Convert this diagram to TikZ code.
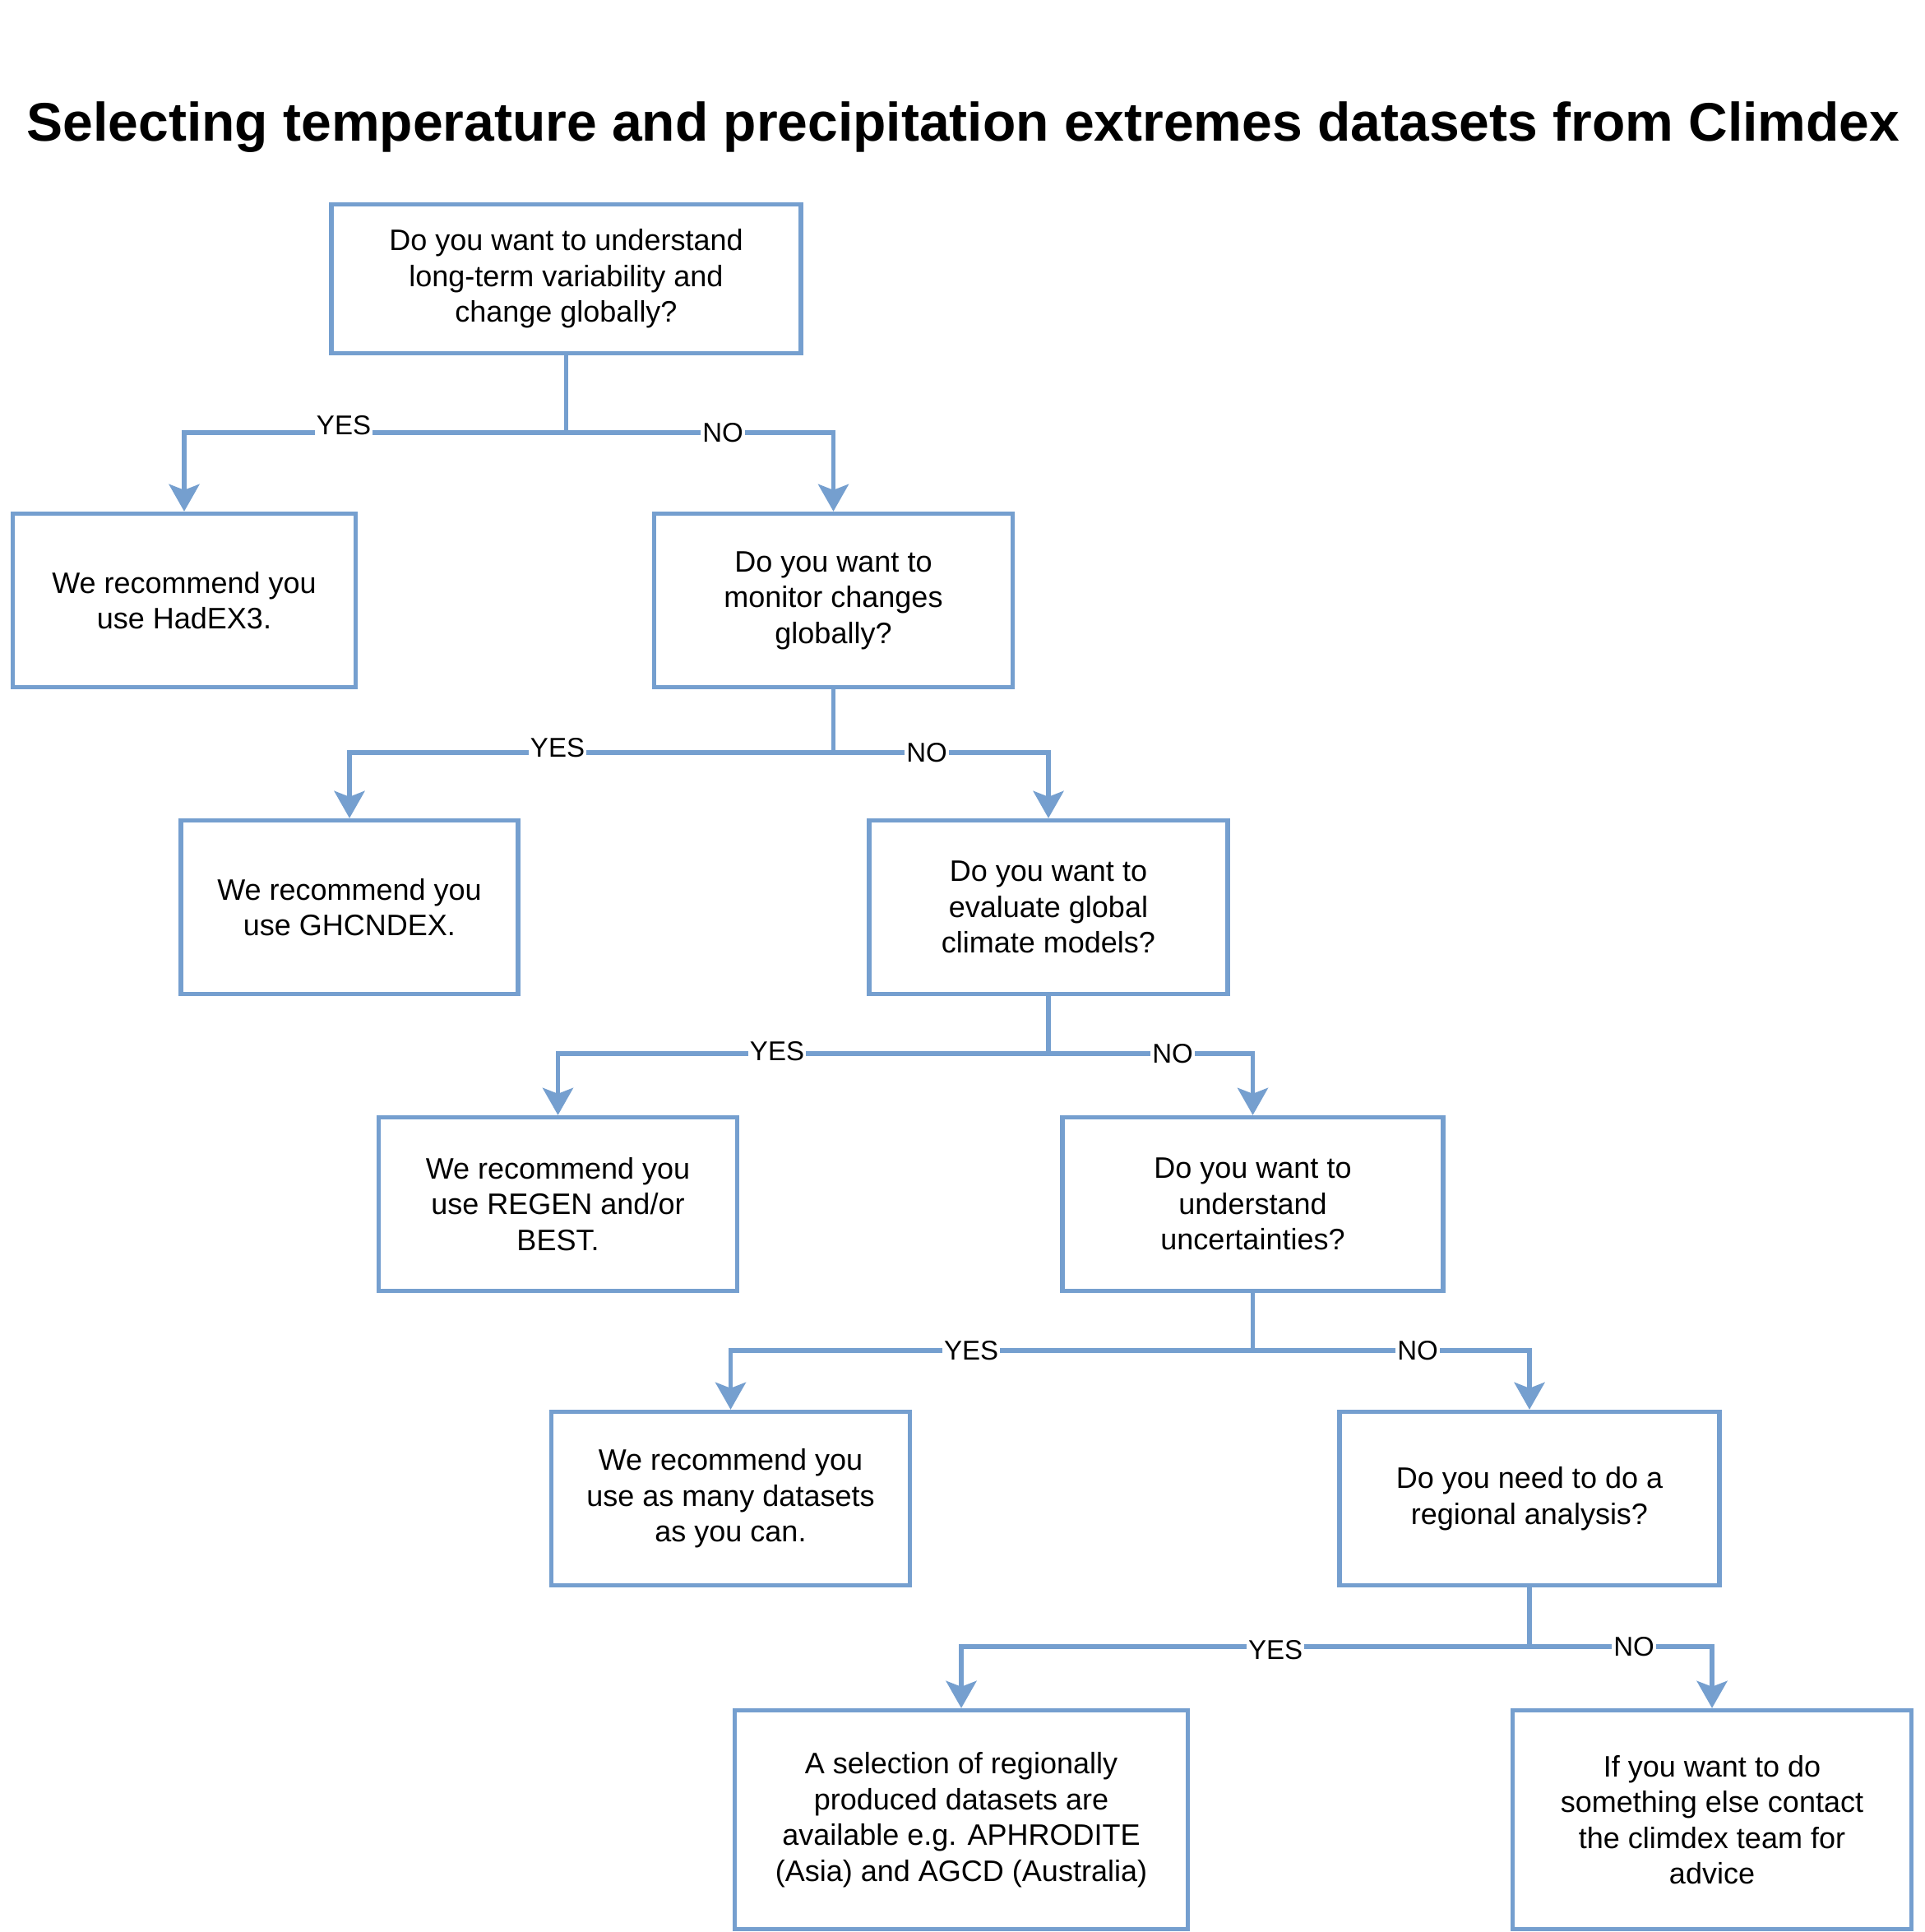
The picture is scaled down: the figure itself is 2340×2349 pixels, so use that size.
\documentclass[tikz,border=0pt]{standalone}
\usepackage{fontspec}
\setmainfont{Liberation Sans}
\usetikzlibrary{arrows.meta}
\definecolor{edgeblue}{RGB}{117,159,207}
\begin{document}
\begin{tikzpicture}[x=0.5pt,y=-0.5pt,
  box/.style={draw=edgeblue, line width=2.7pt, fill=white, inner sep=0pt, align=center,
    font=\fontsize{18}{21.75}\selectfont, execute at begin node={\rule{0pt}{14.8pt}}},
  conn/.style={draw=edgeblue, line width=2.6pt, -{Stealth[length=16.5pt,width=18.5pt,inset=3.5pt]}},
  lbl/.style={fill=white, inner xsep=1pt, inner ysep=0.5pt, font=\fontsize{16.5}{18}\selectfont, text=black}]
\useasboundingbox (0,0) rectangle (2340,2349);
\fill[white] (0,0) rectangle (2340,2349);

\node[anchor=base, font=\fontsize{33}{40}\selectfont\bfseries] (title) at (1171.5,172)
  {Selecting temperature and precipitation extremes datasets from Climdex};

\node[box, minimum width=571pt*0.5, minimum height=181pt*0.5] (B1) at (688.5,339)
  {Do you want to understand\\long-term variability and\\change globally?};
\node[box, minimum width=417pt*0.5, minimum height=211pt*0.5] (B2) at (224,730)
  {We recommend you\\use HadEX3.};
\node[box, minimum width=436pt*0.5, minimum height=211pt*0.5] (B3) at (1013.5,730)
  {Do you want to\\monitor changes\\globally?};
\node[box, minimum width=410pt*0.5, minimum height=211pt*0.5] (B4) at (425,1103)
  {We recommend you\\use GHCNDEX.};
\node[box, minimum width=436pt*0.5, minimum height=211pt*0.5] (B5) at (1275,1103)
  {Do you want to\\evaluate global\\climate models?};
\node[box, minimum width=436pt*0.5, minimum height=211pt*0.5] (B6) at (678.5,1464)
  {We recommend you\\use REGEN and/or\\BEST.};
\node[box, minimum width=463pt*0.5, minimum height=211pt*0.5] (B7) at (1523.5,1464)
  {Do you want to\\understand\\uncertainties?};
\node[box, minimum width=436pt*0.5, minimum height=211pt*0.5] (B8) at (888.5,1822)
  {We recommend you\\use as many datasets\\as you can.};
\node[box, minimum width=462pt*0.5, minimum height=211pt*0.5] (B9) at (1860,1822)
  {Do you need to do a\\regional analysis?};
\node[box, minimum width=551pt*0.5, minimum height=266pt*0.5] (B10) at (1169,2212.5)
  {A selection of regionally\\produced datasets are\\available e.g. APHRODITE\\(Asia) and AGCD (Australia)};
\node[box, minimum width=485pt*0.5, minimum height=266pt*0.5] (B11) at (2082,2212.5)
  {If you want to do\\something else contact\\the climdex team for\\advice};

% level 1
\draw[conn] (B1.south) |- (418,526) node[lbl, yshift=4.5pt] {YES} -| (B2.north);
\draw[conn] (B1.south) |- (879,526) node[lbl] {NO} -| (B3.north);
% level 2
\draw[conn] (B3.south) |- (678,915) node[lbl, yshift=3pt] {YES} -| (B4.north);
\draw[conn] (B3.south) |- (1127,915) node[lbl] {NO} -| (B5.north);
% level 3
\draw[conn] (B5.south) |- (945,1281) node[lbl, yshift=1.5pt] {YES} -| (B6.north);
\draw[conn] (B5.south) |- (1426,1281) node[lbl] {NO} -| (B7.north);
% level 4
\draw[conn] (B7.south) |- (1181,1642) node[lbl] {YES} -| (B8.north);
\draw[conn] (B7.south) |- (1724,1642) node[lbl] {NO} -| (B9.north);
% level 5
\draw[conn] (B9.south) |- (1551,2002) node[lbl, yshift=-2pt] {YES} -| (B10.north);
\draw[conn] (B9.south) |- (1987,2002) node[lbl] {NO} -| (B11.north);
\end{tikzpicture}
\end{document}
